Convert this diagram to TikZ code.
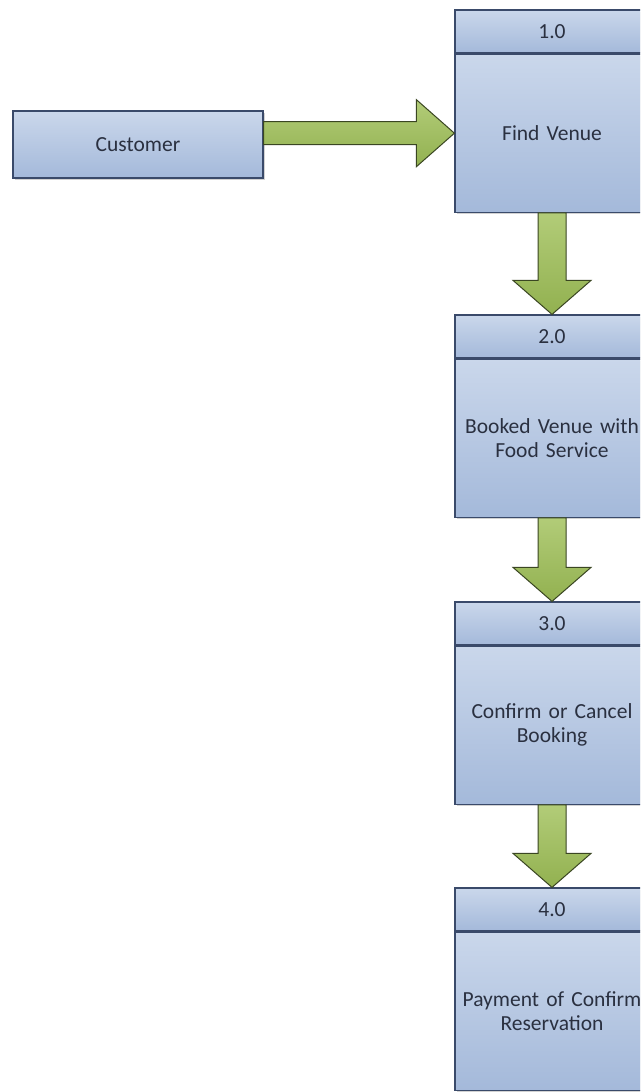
\documentclass[tikz,border=0pt]{standalone}
\usepackage{fontspec}
\setmainfont{Carlito}
\usetikzlibrary{positioning,calc,shadows}

\definecolor{boxtop}{HTML}{CAD7EB}
\definecolor{boxbot}{HTML}{A4B9DA}
\definecolor{boxline}{HTML}{3A4A6A}
\definecolor{flowtop}{HTML}{B2CC78}
\definecolor{flowbot}{HTML}{92B150}
\definecolor{flowline}{HTML}{3A4622}
\definecolor{txt}{HTML}{2A3040}

\tikzset{
  proc/.style={rectangle, draw=boxline, line width=1.2pt, top color=boxtop, bottom color=boxbot,
    minimum width=194pt, text width=190pt, align=center, inner sep=0pt, text=txt,
    font=\fontsize{21.5}{24}\selectfont,
    drop shadow={shadow xshift=2pt, shadow yshift=-2pt, opacity=.35}},
  prochead/.style={proc, minimum height=43pt},
  procbody/.style={proc, minimum height=158pt},
  entity/.style={proc, minimum width=250pt, text width=240pt, minimum height=67pt},
  flow/.style={draw=flowline, line width=1pt, top color=flowtop, bottom color=flowbot, line join=miter}
}

\begin{document}
\begin{tikzpicture}[x=1pt,y=1pt]
    \path[use as bounding box, clip] (0,0) rectangle (640,1092);
    \fill[white] (0,0) rectangle (640,1092);

    % external entity
    \node[entity] (cust) at (138,947.5) {Customer};

    % processes
    \node[prochead] (p1head) at (552,1060.5) {1.0};
    \node[procbody, below=0pt of p1head] (p1body) {Find Venue};
    \node[prochead] (p2head) at (552,755.5) {2.0};
    \node[procbody, below=0pt of p2head] (p2body) {Booked Venue with\\Food Service};
    \node[prochead] (p3head) at (552,468.5) {3.0};
    \node[procbody, below=0pt of p3head] (p3body) {Confirm or Cancel\\Booking};
    \node[prochead] (p4head) at (552,182.5) {4.0};
    \node[procbody, below=0pt of p4head] (p4body) {Payment of Confirm\\Reservation};

    % customer -> find venue
    \coordinate (hstart) at (cust.east |- p1body.west);
    \draw[flow] ($(hstart)+(0,11.5)$) -- ($(p1body.west)+(-38,11.5)$) -- ($(p1body.west)+(-38,33.5)$)
      -- (p1body.west) -- ($(p1body.west)+(-38,-33.5)$) -- ($(p1body.west)+(-38,-11.5)$)
      -- ($(hstart)+(0,-11.5)$) -- cycle;

    % process -> process
    \foreach \a/\b in {p1body/p2head, p2body/p3head, p3body/p4head}
      \draw[flow] ($(\a.south)+(-14,0)$) -- ($(\b.north)+(-14,34)$) -- ($(\b.north)+(-39,34)$)
        -- (\b.north) -- ($(\b.north)+(39,34)$) -- ($(\b.north)+(14,34)$)
        -- ($(\a.south)+(14,0)$) -- cycle;
\end{tikzpicture}
\end{document}
